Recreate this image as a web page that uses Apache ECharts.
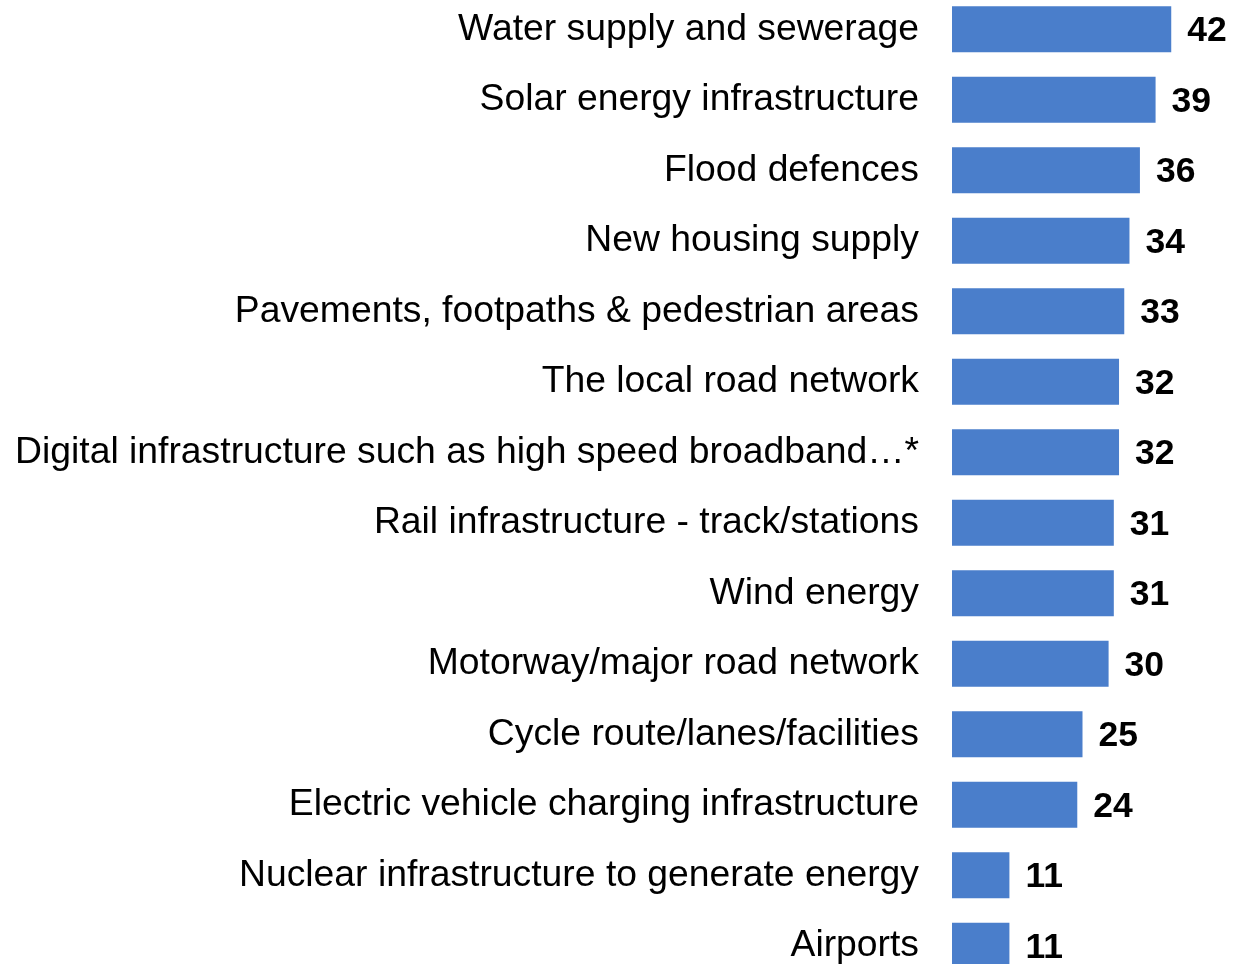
<!DOCTYPE html>
<html>
<head>
<meta charset="utf-8">
<script src="https://cdn.jsdelivr.net/npm/echarts@6/dist/echarts.min.js"></script>
<style>html,body{margin:0;padding:0;background:#fff;overflow:hidden}#c{position:absolute;left:0;top:-6px;width:1243px;height:987px}</style>
</head>
<body>
<div id="c"></div>
<script>
var categories = [
  "Water supply and sewerage",
  "Solar energy infrastructure",
  "Flood defences",
  "New housing supply",
  "Pavements, footpaths & pedestrian areas",
  "The local road network",
  "Digital infrastructure such as high speed broadband…*",
  "Rail infrastructure - track/stations",
  "Wind energy",
  "Motorway/major road network",
  "Cycle route/lanes/facilities",
  "Electric vehicle charging infrastructure",
  "Nuclear infrastructure to generate energy",
  "Airports"
];
var values = [42, 39, 36, 34, 33, 32, 32, 31, 31, 30, 25, 24, 11, 11];

var chart = echarts.init(document.getElementById('c'), null, {renderer: 'canvas'});
chart.setOption({
  animation: false,
  grid: {left: 952, right: 30, top: 0, bottom: 0, containLabel: false},
  xAxis: {type: 'value', min: 0, max: 50, show: false},
  yAxis: {
    type: 'category', data: categories, inverse: true,
    axisLine: {show: false}, axisTick: {show: false},
    axisLabel: {margin: 33, fontFamily: 'Liberation Sans', fontSize: 37.3, color: '#000', padding: [3, 0, 0, 0]}
  },
  series: [{
    type: 'bar', data: values, barWidth: 46,
    itemStyle: {color: '#4a7ecb'},
    label: {show: true, position: 'right', distance: 16, offset: [0, 2], fontFamily: 'Liberation Sans', fontWeight: 'bold', fontSize: 35.5, color: '#000'}
  }]
});
</script>
</body>
</html>
